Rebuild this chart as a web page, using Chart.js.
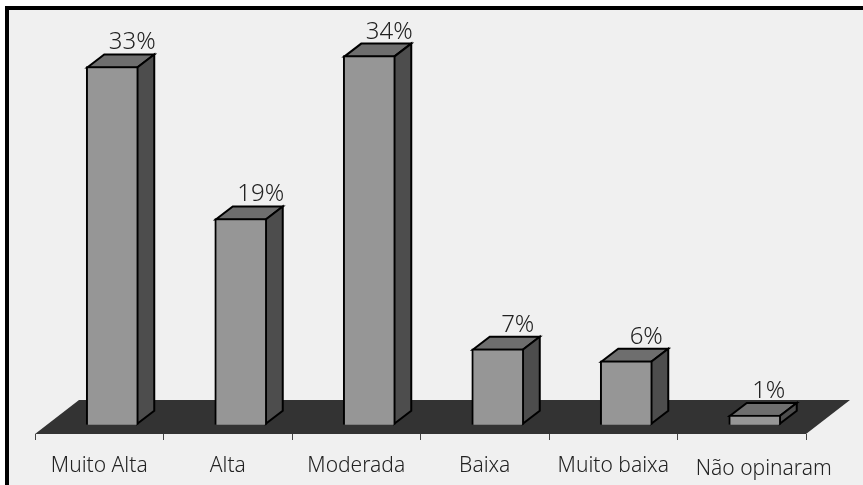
<!DOCTYPE html>
<html>
<head>
    <title>Grafico</title>
    <script src="https://cdn.jsdelivr.net/npm/chart.js"></script>
    <style>
        body { margin: 0; padding: 0; background-color: #fff; }
        canvas { display: block; }
    </style>
</head>
<body>
    <canvas id="myChart" width="863" height="485"></canvas>

    <script>
        var categorias = ['Muito Alta', 'Alta', 'Moderada', 'Baixa', 'Muito baixa', 'Não opinaram'];
        var valores = [33, 19, 34, 7, 5.9, 0.9];
        var rotulos = ['33%', '19%', '34%', '7%', '6%', '1%'];

        var FONTE = '"Noto Sans", sans-serif';
        var DX = 17, DY = 13;       // profundidade do efeito 3D
        var DESLOCA = 13;           // barras ficam a direita do centro da categoria

        var cenario3d = {
            id: 'cenario3d',
            beforeDraw: function (chart) {
                var c = chart.ctx;
                c.save();
                c.fillStyle = '#f0f0f0';
                c.fillRect(5, 6, 858, 479);
                c.fillStyle = '#000';
                c.fillRect(5, 6, 858, 4);
                c.fillRect(5, 6, 4, 479);

                // piso
                var a = chart.chartArea;
                c.fillStyle = '#333';
                c.beginPath();
                c.moveTo(a.left, a.bottom);
                c.lineTo(a.right, a.bottom);
                c.lineTo(a.right + 44, a.bottom - 34);
                c.lineTo(a.left + 44, a.bottom - 34);
                c.closePath();
                c.fill();
                c.restore();
            },
            afterDatasetsUpdate: function (chart) {
                chart.getDatasetMeta(0).data.forEach(function (b) { b.x += DESLOCA; });
            },
            beforeDatasetsDraw: function (chart) {
                var c = chart.ctx;
                c.save();
                c.strokeStyle = '#000';
                c.lineWidth = 2;
                c.lineJoin = 'miter';
                chart.getDatasetMeta(0).data.forEach(function (b) {
                    var e = b.x - b.width / 2 + 1, d = b.x + b.width / 2 - 1;
                    var t = b.y + 1, f = b.base - 1;
                    // topo
                    c.fillStyle = '#6e6e6e';
                    c.beginPath();
                    c.moveTo(e, t);
                    c.lineTo(e + DX, t - DY);
                    c.lineTo(d + DX, t - DY);
                    c.lineTo(d, t);
                    c.closePath();
                    c.fill();
                    c.stroke();
                    // lateral
                    c.fillStyle = '#4d4d4d';
                    c.beginPath();
                    c.moveTo(d, t);
                    c.lineTo(d + DX, t - DY);
                    c.lineTo(d + DX, f - DY);
                    c.lineTo(d, f);
                    c.closePath();
                    c.fill();
                    c.stroke();
                });
                c.restore();
            },
            afterDraw: function (chart) {
                var c = chart.ctx;
                c.save();
                c.fillStyle = '#222';
                c.textAlign = 'center';
                c.textBaseline = 'alphabetic';
                c.font = '300 24px ' + FONTE;
                chart.getDatasetMeta(0).data.forEach(function (b, i) {
                    c.fillText(rotulos[i], b.x + (i === 5 ? 14 : 20), b.y - 17);
                });
                // ultimo rotulo fica mais baixo e deslocado no original
                var x = chart.scales.x;
                var n = categorias.length - 1;
                c.font = '300 21px ' + FONTE;
                c.fillText(categorias[n], x.getPixelForTick(n) + 22, 475);
                c.restore();
            }
        };

        new Chart(document.getElementById('myChart'), {
            type: 'bar',
            data: {
                labels: categorias,
                datasets: [{
                    data: valores,
                    backgroundColor: '#969696',
                    borderColor: '#000',
                    borderWidth: 2,
                    barThickness: 52
                }]
            },
            options: {
                responsive: false,
                animation: false,
                events: [],
                layout: { padding: { left: 35, right: 57, top: 10, bottom: 0 } },
                plugins: { legend: { display: false }, tooltip: { enabled: false } },
                scales: {
                    x: {
                        afterFit: function (s) { s.height = 51; },
                        border: { display: false },
                        grid: { drawOnChartArea: false, drawTicks: true, tickLength: 6, color: '#444', lineWidth: 1 },
                        ticks: {
                            autoSkip: false,
                            maxRotation: 0,
                            padding: 13,
                            color: '#222',
                            font: { family: FONTE, size: 21, weight: '300' },
                            callback: function (v, i) { return i === categorias.length - 1 ? '' : categorias[i]; }
                        }
                    },
                    y: { display: false, min: -0.85, max: 38.2 }
                }
            },
            plugins: [cenario3d]
        });
    </script>
</body>
</html>
